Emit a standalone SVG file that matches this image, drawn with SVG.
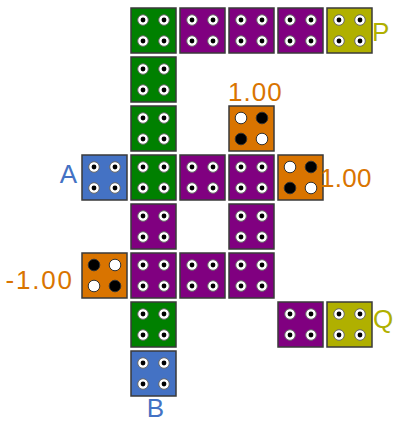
<svg xmlns="http://www.w3.org/2000/svg" width="398" height="423" viewBox="0 0 398 423">
<defs>
<style>
.t{stroke:#3a3a3a;stroke-width:1.5}
.g{fill:#008000}.p{fill:#800080}.b{fill:#4472c4}.y{fill:#b0b000}.o{fill:#d97400}
.ring{fill:#fff;stroke:#666;stroke-width:1}
.dot{fill:#000}
.w{fill:#fff;stroke:#333;stroke-width:1}
.k{fill:#000;stroke:#333;stroke-width:1}
text{font-family:"Liberation Sans",Arial,sans-serif;font-size:26px}
</style>
<g id="h">
<circle class="ring" r="5.3"/><circle class="dot" r="2.4"/>
</g>
<g id="holes">
<use href="#h" x="12" y="12"/><use href="#h" x="33" y="12"/>
<use href="#h" x="12" y="33"/><use href="#h" x="33" y="33"/>
</g>
<g id="o1">
<circle class="w" cx="12" cy="12" r="5.8"/><circle class="k" cx="33" cy="12" r="5.8"/>
<circle class="k" cx="12" cy="33" r="5.8"/><circle class="w" cx="33" cy="33" r="5.8"/>
</g>
<g id="o2">
<circle class="k" cx="12" cy="12" r="5.8"/><circle class="w" cx="33" cy="12" r="5.8"/>
<circle class="w" cx="12" cy="33" r="5.8"/><circle class="k" cx="33" cy="33" r="5.8"/>
</g>
</defs>
<g id="connectors"/>
<g id="r0c1" transform="translate(131,8)"><rect class="t g" width="45" height="45"/><use href="#holes"/></g>
<g id="r0c2" transform="translate(180,8)"><rect class="t p" width="45" height="45"/><use href="#holes"/></g>
<g id="r0c3" transform="translate(229,8)"><rect class="t p" width="45" height="45"/><use href="#holes"/></g>
<g id="r0c4" transform="translate(278,8)"><rect class="t p" width="45" height="45"/><use href="#holes"/></g>
<g id="P" transform="translate(327,8)"><rect class="t y" width="45" height="45"/><use href="#holes"/><text x="45" y="32.7" font-size="25.5" fill="#b0b000">P</text></g>
<g id="r1c1" transform="translate(131,57)"><rect class="t g" width="45" height="45"/><use href="#holes"/></g>
<g id="r2c1" transform="translate(131,106)"><rect class="t g" width="45" height="45"/><use href="#holes"/></g>
<g id="r2c3" transform="translate(229,106)"><rect class="t o" width="45" height="45"/><use href="#o1"/><text x="-1" y="-5.3" font-size="25" letter-spacing="1" fill="#d97400">1.00</text></g>
<g id="A" transform="translate(82,155)"><rect class="t b" width="45" height="45"/><use href="#holes"/><text x="-5" y="27.7" text-anchor="end" fill="#4472c4">A</text></g>
<g id="r3c1" transform="translate(131,155)"><rect class="t g" width="45" height="45"/><use href="#holes"/></g>
<g id="r3c2" transform="translate(180,155)"><rect class="t p" width="45" height="45"/><use href="#holes"/></g>
<g id="r3c3" transform="translate(229,155)"><rect class="t p" width="45" height="45"/><use href="#holes"/></g>
<g id="r3c4" transform="translate(278,155)"><rect class="t o" width="45" height="45"/><use href="#o1"/><text x="42" y="31.7" font-size="28" letter-spacing="0.3" fill="#d97400">1.00</text></g>
<g id="r4c1" transform="translate(131,204)"><rect class="t p" width="45" height="45"/><use href="#holes"/></g>
<g id="r4c3" transform="translate(229,204)"><rect class="t p" width="45" height="45"/><use href="#holes"/></g>
<g id="r5c0" transform="translate(82,253)"><rect class="t o" width="45" height="45"/><use href="#o2"/><text x="-76.5" y="35.7" font-size="26" letter-spacing="1.8" fill="#d97400">-1.00</text></g>
<g id="r5c1" transform="translate(131,253)"><rect class="t p" width="45" height="45"/><use href="#holes"/></g>
<g id="r5c2" transform="translate(180,253)"><rect class="t p" width="45" height="45"/><use href="#holes"/></g>
<g id="r5c3" transform="translate(229,253)"><rect class="t p" width="45" height="45"/><use href="#holes"/></g>
<g id="r6c1" transform="translate(131,302)"><rect class="t g" width="45" height="45"/><use href="#holes"/></g>
<g id="r6c4" transform="translate(278,302)"><rect class="t p" width="45" height="45"/><use href="#holes"/></g>
<g id="Q" transform="translate(327,302)"><rect class="t y" width="45" height="45"/><use href="#holes"/><text x="46" y="26" fill="#b0b000">Q</text></g>
<g id="B" transform="translate(131,351)"><rect class="t b" width="45" height="45"/><use href="#holes"/><text x="24.3" y="66" text-anchor="middle" fill="#4472c4">B</text></g>
</svg>
